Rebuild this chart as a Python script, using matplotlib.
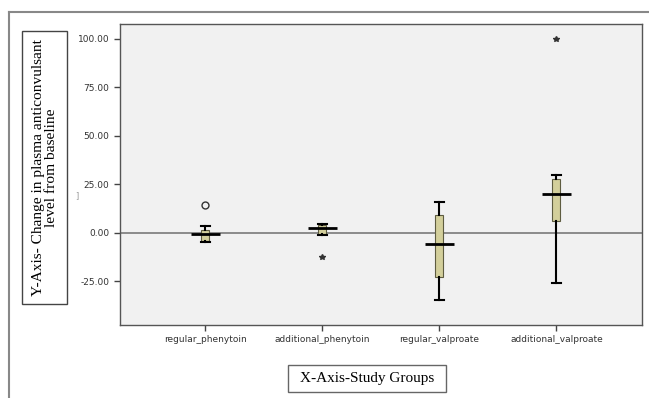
import matplotlib
matplotlib.use("Agg")
import matplotlib.pyplot as plt
from matplotlib.patches import Rectangle
from matplotlib.lines import Line2D

groups = ["regular_phenytoin", "additional_phenytoin", "regular_valproate", "additional_valproate"]
whis_lo = [-5.0, -1.0, -34.8, -26.0]
q1 = [-4.1, -0.7, -22.9, 5.8]
med = [-0.7, 2.2, -5.8, 20.2]
q3 = [1.5, 4.1, 8.9, 27.6]
whis_hi = [3.2, 4.5, 15.6, 29.5]
circle_out = [(0, 14.2)]
star_out = [(1, -12.7), (3, 100.0)]
yticks = [-25, 0, 25, 50, 75, 100]

fig = plt.figure(figsize=(6.49, 3.98), dpi=100)
ax = fig.add_axes([0.1849, 0.1834, 0.804, 0.7563])
ax.set_facecolor("#f1f1f1")

stats = []
for i in range(len(groups)):
    stats.append(dict(whislo=whis_lo[i], q1=q1[i], med=med[i], q3=q3[i],
                      whishi=whis_hi[i], fliers=[]))
pos = list(range(len(groups)))
ax.axhline(0, color="#7a7a7a", lw=1.2, zorder=1)
ax.bxp(stats, positions=pos, widths=0.068, capwidths=0.08, patch_artist=True,
       showfliers=False,
       boxprops=dict(facecolor="#d3cf9b", edgecolor="#5e5c40", lw=0.8),
       whiskerprops=dict(color="black", lw=1.5),
       capprops=dict(color="black", lw=1.5),
       medianprops=dict(lw=0))
ax.hlines(med, [p - 0.125 for p in pos], [p + 0.125 for p in pos],
          colors="black", lw=2, zorder=4)

ax.plot([c[0] for c in circle_out], [c[1] for c in circle_out], "o",
        mfc="none", mec="#333333", ms=5, mew=1)
ax.plot([s[0] for s in star_out], [s[1] for s in star_out], "*",
        color="#333333", ms=4)

ax.set_xlim(-0.73, 3.73)
ax.set_ylim(-47.6, 107.6)
ax.set_yticks(yticks)
ax.set_yticklabels(["%.2f" % v for v in yticks], fontsize=6.5,
                   family="DejaVu Sans", color="#333333")
ax.set_xticks(pos)
ax.set_xticklabels(groups, fontsize=6.5, family="DejaVu Sans", color="#333333")
ax.tick_params(direction="out", length=4, width=1, color="#444444")
for s in ax.spines.values():
    s.set_color("#555555")
    s.set_linewidth(1)

# outer frame (left and top edges only)
fig.add_artist(Line2D([9 / 649, 9 / 649], [0, 1 - 12 / 398], color="#888888", lw=1.5))
fig.add_artist(Line2D([9 / 649, 1], [1 - 12 / 398, 1 - 12 / 398], color="#888888", lw=1.5))

# y-axis label box
fig.add_artist(Rectangle((22 / 649, 1 - 304 / 398), 45 / 649, 273 / 398,
                         fill=False, ec="#444444", lw=1))
fig.text(45 / 649, 1 - 168 / 398,
         "Y-Axis- Change in plasma anticonvulsant\nlevel from baseline",
         rotation=90, ha="center", va="center", fontsize=11.1,
         family="Liberation Serif", linespacing=1.0)

# x-axis label box
fig.add_artist(Rectangle((288 / 649, 1 - 392 / 398), 158 / 649, 27 / 398,
                         fill=False, ec="#666666", lw=1))
fig.text(367 / 649, 1 - 378.5 / 398, "X-Axis-Study Groups", ha="center",
         va="center", fontsize=11, family="Liberation Serif")

fig.text(77 / 649, 1 - 196 / 398, "]", fontsize=6, color="#999999",
         ha="center", va="center")

fig.savefig("out.png", dpi=100)
